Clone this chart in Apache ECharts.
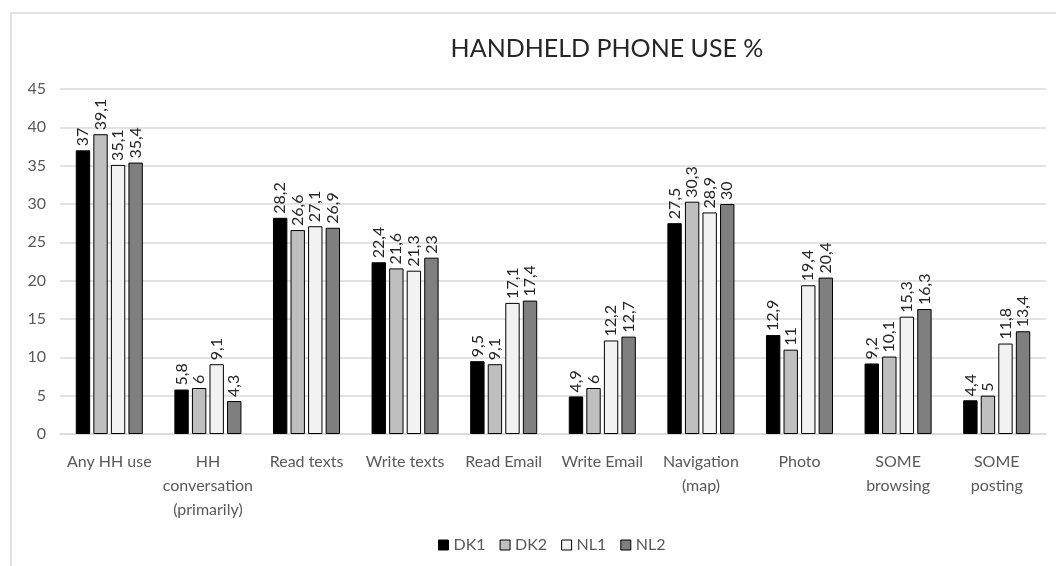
<!DOCTYPE html>
<html><head><meta charset="utf-8">
<script src="https://cdn.jsdelivr.net/npm/echarts@6/dist/echarts.min.js"></script>
<style>html,body{margin:0;padding:0;background:#fff}#c{width:1056px;height:566px}</style>
</head><body><div id="c"></div>
<script>
const categories = ["Any HH use","HH\nconversation\n(primarily)","Read texts","Write texts","Read Email","Write Email","Navigation\n(map)","Photo","SOME\nbrowsing","SOME\nposting"];
const DK1 = [37,5.8,28.2,22.4,9.5,4.9,27.5,12.9,9.2,4.4];
const DK2 = [39.1,6,26.6,21.6,9.1,6,30.3,11,10.1,5];
const NL1 = [35.1,9.1,27.1,21.3,17.1,12.2,28.9,19.4,15.3,11.8];
const NL2 = [35.4,4.3,26.9,23,17.4,12.7,30,20.4,16.3,13.4];
const seriesNames = ["DK1","DK2","NL1","NL2"];
const seriesColors = ["#000000","#bfbfbf","#f2f2f2","#7f7f7f"];
const yTicks = {min:0,max:45,interval:5};

const font = "Lato, 'Open Sans', sans-serif";
const chart = echarts.init(document.getElementById('c'));
const mk = (name, data, color) => ({
  name, type:'bar', data,
  itemStyle:{color, borderColor:'#000', borderWidth:1},
  barGap:'22%', barCategoryGap:'32%',
  label:{show:true, position:'top', rotate:90, align:'left', verticalAlign:'middle', distance:4,
    color:'#262626', fontSize:16, fontFamily:font,
    formatter:p=>String(p.value).replace('.',',')}
});
chart.setOption({
  animation:false,
  graphic:[{type:'rect', shape:{x:11,y:13,width:1200,height:700}, style:{fill:'none',stroke:'#d9d9d9',lineWidth:1.5}, silent:true}],
  title:{text:'HANDHELD PHONE USE %', left:602, textAlign:'center', top:31, textStyle:{fontFamily:font,fontSize:25,fontWeight:'normal',color:'#262626'}},
  legend:{bottom:8, left:433, itemWidth:10, itemHeight:10, itemGap:14, icon:'rect',
    textStyle:{fontFamily:font,fontSize:16,color:'#595959'},
    data:seriesNames.map((n,i)=>({name:n, itemStyle:{color:seriesColors[i],borderColor:'#000',borderWidth:1}}))},
  grid:{left:60, right:10, top:89, bottom:132, containLabel:false},
  xAxis:{type:'category', data:categories,
    axisLine:{lineStyle:{color:'#d9d9d9',width:1.5}}, axisTick:{show:false},
    axisLabel:{fontFamily:font,fontSize:16,color:'#595959',lineHeight:24,margin:16,interval:0}},
  yAxis:{type:'value', min:yTicks.min, max:yTicks.max, interval:yTicks.interval,
    axisLine:{show:false}, axisTick:{show:false},
    splitLine:{lineStyle:{color:'#d9d9d9',width:1.5}},
    axisLabel:{fontFamily:font,fontSize:16,color:'#595959',margin:14}},
  series:[mk(seriesNames[0],DK1,seriesColors[0]),mk(seriesNames[1],DK2,seriesColors[1]),mk(seriesNames[2],NL1,seriesColors[2]),mk(seriesNames[3],NL2,seriesColors[3])]
});
</script></body></html>
